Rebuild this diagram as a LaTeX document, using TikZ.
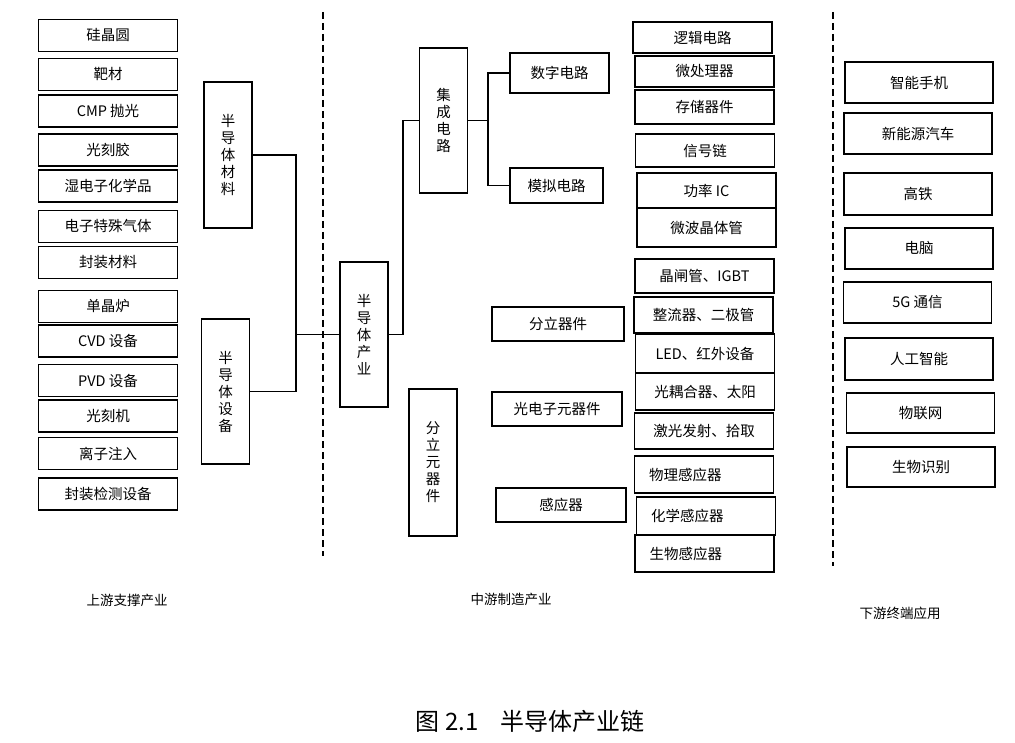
\documentclass[tikz,border=0pt]{standalone}
\usepackage{fontspec}
\setmainfont{Noto Sans CJK SC}
\tikzset{
  box/.style={draw, line width=1.3pt, inner sep=0pt, minimum width=139pt, minimum height=32pt, font=\fontsize{14.5}{17}\selectfont},
  vbox/.style={box, minimum width=48pt, minimum height=146pt, align=center},
  appbox/.style={box, minimum width=148pt, minimum height=41pt},
  ltxt/.style={text width=110pt, align=left},
  link/.style={line width=1.1pt},
  sep/.style={dashed, dash pattern=on 7pt off 4pt, line width=1.6pt},
  lbl/.style={font=\fontsize{13.5}{16}\selectfont}
}
\begin{document}
\begin{tikzpicture}[x=1pt, y=-1pt]
    \useasboundingbox (0,0) rectangle (1015,743);
    % upstream
    \node[box] (l1) at (108,35.5) {硅晶圆};
    \node[box] (l2) at (108,74.5) {靶材};
    \node[box] (l3) at (108,111) {CMP 抛光};
    \node[box] (l4) at (108,150) {光刻胶};
    \node[box] (l5) at (108,186) {湿电子化学品};
    \node[box] (l6) at (108,226.5) {电子特殊气体};
    \node[box] (l7) at (108,262.5) {封装材料};
    \node[box] (l8) at (108,306.5) {单晶炉};
    \node[box] (l9) at (108,341) {CVD 设备};
    \node[box] (l10) at (108,380.5) {PVD 设备};
    \node[box] (l11) at (108,416) {光刻机};
    \node[box] (l12) at (108,453.5) {离子注入};
    \node[box] (l13) at (108,494) {封装检测设备};
    \node[vbox] (mat) at (228,155) {半\\导\\体\\材\\料};
    \node[vbox, minimum height=145pt] (equ) at (225.5,391.5) {半\\导\\体\\设\\备};
    % midstream
    \node[vbox, minimum height=145pt] (ind) at (364,334.5) {半\\导\\体\\产\\业};
    \node[vbox, minimum height=145pt] (ic) at (443.5,120.5) {集\\成\\电\\路};
    \node[vbox, minimum height=147pt] (dis) at (433,462.5) {分\\立\\元\\器\\件};
    \node[box, minimum width=99pt, minimum height=40pt] (dig) at (559.5,73) {数字电路};
    \node[box, minimum width=93pt, minimum height=35pt] (ana) at (556.5,185.5) {模拟电路};
    \node[box, minimum width=132pt, minimum height=34pt] (dev) at (558,324) {分立器件};
    \node[box, minimum width=130pt, minimum height=34pt] (opt) at (557,409) {光电子元器件};
    \node[box, minimum width=130pt, minimum height=34pt] (sen) at (561,505) {感应器};
    \node[box, minimum height=31pt] (s1) at (702.5,37.5) {逻辑电路};
    \node[box, minimum height=31pt] (s2) at (704.5,71.5) {微处理器};
    \node[box, minimum height=34pt] (s3) at (704.5,107) {存储器件};
    \node[box, minimum height=33pt] (s4) at (705,150.5) {信号链};
    \node[box, minimum height=35pt] (s5) at (706.5,190.5) {功率 IC};
    \node[box, minimum height=39pt] (s6) at (706.5,227.5) {微波晶体管};
    \node[box, minimum height=34pt] (s7) at (704.5,276) {晶闸管、IGBT};
    \node[box, minimum height=36pt] (s8) at (703.5,315) {整流器、二极管};
    \node[box, minimum height=39pt] (s9) at (705,353.5) {LED、红外设备};
    \node[box, minimum height=37pt] (s10) at (705,391.5) {光耦合器、太阳};
    \node[box, minimum height=36pt] (s11) at (704,431) {激光发射、拾取};
    \node[box, ltxt, minimum height=37pt] (s12) at (704,474.5) {物理感应器};
    \node[box, ltxt, minimum height=38pt] (s13) at (706,516) {化学感应器};
    \node[box, ltxt, minimum height=37pt] (s14) at (704.5,553.5) {生物感应器};
    % downstream
    \node[appbox] (r1) at (919,82.5) {智能手机};
    \node[appbox] (r2) at (918,133.5) {新能源汽车};
    \node[appbox, minimum height=42pt] (r3) at (918,194) {高铁};
    \node[appbox] (r4) at (919,248.5) {电脑};
    \node[appbox] (r5) at (917.5,302.5) {5G 通信};
    \node[appbox, minimum height=42pt] (r6) at (919,359) {人工智能};
    \node[appbox, minimum height=40pt] (r7) at (920.5,413) {物联网};
    \node[appbox, minimum height=40pt] (r8) at (921,467) {生物识别};
    % links
    \coordinate (j1) at (296,334.5);
    \coordinate (j2) at (403,120.5);
    \coordinate (j3) at (488,120.5);
    \draw[link] (mat.east) -| (j1);
    \draw[link] (equ.east) -| (j1);
    \draw[link] (j1) -- (ind.west);
    \draw[link] (ind.east) -| (j2) -- (ic.west);
    \draw[link] (ic.east) -- (j3);
    \draw[link] (dig.west) -| (j3) |- (ana.west);
    % stage separators
    \coordinate (d1a) at (323,12);
    \coordinate (d1b) at (323,556);
    \coordinate (d2a) at (833,12);
    \coordinate (d2b) at (833,566);
    \draw[sep] (d1a) -- (d1b);
    \draw[sep] (d2a) -- (d2b);
    \node[lbl] (up) at (127,600) {上游支撑产业};
    \node[lbl] (mid) at (511,599) {中游制造产业};
    \node[lbl] (down) at (900,613) {下游终端应用};
    \node[font=\fontsize{24}{28}\selectfont] (cap) at (530,721) {图 2.1\hspace{0.9em}半导体产业链};
\end{tikzpicture}
\end{document}
